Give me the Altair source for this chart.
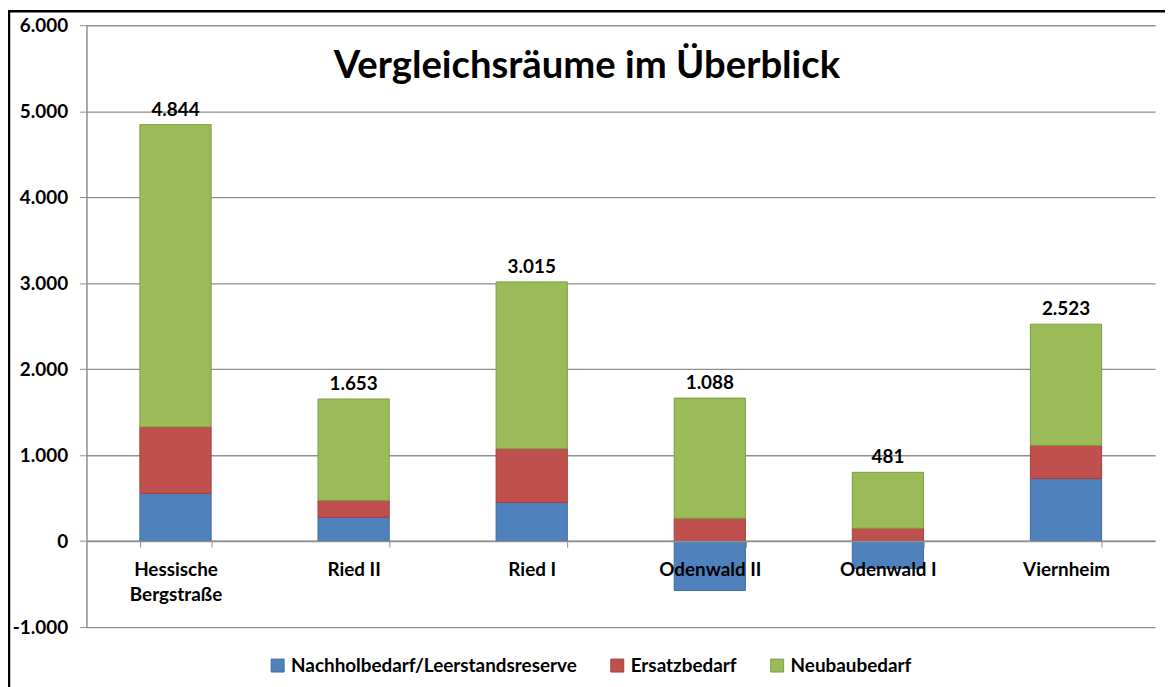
import altair as alt
import pandas as pd

title_text = ["Vergleichsräume im Überblick"]
regions = ["Hessische Bergstraße", "Ried II", "Ried I", "Odenwald II", "Odenwald I", "Viernheim"]
series = ["Nachholbedarf/Leerstandsreserve", "Ersatzbedarf", "Neubaubedarf"]
nachholbedarf = [554, 277, 450, -575, -319, 727]
ersatzbedarf = [774, 196, 624, 265, 150, 385]
neubaubedarf = [3516, 1180, 1941, 1398, 650, 1411]
totals = [4844, 1653, 3015, 1088, 481, 2523]
y_ticks = [-1000, 0, 1000, 2000, 3000, 4000, 5000, 6000]

fill_colors = ["#4F81BD", "#C0504D", "#9BBB59"]
stroke_colors = ["#3E6DA3", "#A43F3C", "#7E9C45"]

rows = []
for i, r in enumerate(regions):
    for j, (s, vals) in enumerate(zip(series, [nachholbedarf, ersatzbedarf, neubaubedarf])):
        rows.append({"region": r, "series": s, "order": j, "value": vals[i]})
df = pd.DataFrame(rows)

tops = [sum(v for v in (a, b, c) if v > 0) for a, b, c in zip(nachholbedarf, ersatzbedarf, neubaubedarf)]
lab = pd.DataFrame({
    "region": regions,
    "top": tops,
    "label": [f"{t:,}".replace(",", ".") for t in totals],
})

FONT = "Lato"
FS = 19
GRID = "#8E8E8E"
W, H = 1076, 606

x_enc = alt.X(
    "region:N", sort=regions, title=None,
    scale=alt.Scale(paddingInner=0.6, paddingOuter=0.3),
    axis=alt.Axis(
        labelAngle=0, offset=-H * 1000 / 7000, tickBand="extent", tickSize=6,
        labelPadding=14, labelFont=FONT, labelFontWeight="bold", labelFontSize=FS,
        labelColor="black", domainColor=GRID, domainWidth=1.5, tickColor=GRID,
        grid=False, zindex=1, labelLineHeight=25,
        labelExpr="length(datum.label) > 12 ? split(datum.label, ' ') : datum.label",
    ),
)
y_enc = alt.Y(
    "value:Q", stack="zero", title=None,
    scale=alt.Scale(domain=[-1000, 6000], nice=False),
    axis=alt.Axis(
        values=y_ticks, tickSize=7, labelPadding=12, labelFont=FONT,
        labelFontWeight="bold", labelFontSize=FS, labelColor="black",
        domainColor=GRID, domainWidth=1.5, tickColor=GRID, gridColor=GRID, gridWidth=1.3,
        labelExpr="datum.value < 0 ? '-' + replace(format(abs(datum.value), ','), ',', '.') : replace(format(datum.value, ','), ',', '.')",
    ),
)

leg = alt.Legend(
    title=None, orient="none", legendX=183, legendY=635, direction="horizontal",
    symbolType="square", symbolSize=170, symbolStrokeWidth=1, labelFont=FONT,
    labelFontWeight="bold", labelFontSize=FS, labelColor="black", labelLimit=500,
    columnPadding=31, labelOffset=4,
)

bars = alt.Chart(df).mark_bar(strokeWidth=1).encode(
    x=x_enc,
    y=y_enc,
    fill=alt.Fill("series:N", sort=series, scale=alt.Scale(domain=series, range=fill_colors), legend=leg),
    stroke=alt.Stroke("series:N", sort=series, scale=alt.Scale(domain=series, range=stroke_colors), legend=leg),
    order=alt.Order("order:Q"),
)

labels = alt.Chart(lab).mark_text(
    font=FONT, fontSize=FS, fontWeight="bold", baseline="alphabetic", dy=-9, color="black"
).encode(
    x=alt.X("region:N", sort=regions),
    y=alt.Y("top:Q"),
    text="label:N",
)

title = alt.Chart(pd.DataFrame({"t": title_text})).mark_text(
    font=FONT, fontSize=38.5, fontWeight="bold", baseline="alphabetic", align="center", color="black"
).encode(
    x=alt.value(504), y=alt.value(53), text="t:N"
)

frame = alt.Chart(pd.DataFrame({"f": [0]})).mark_rect(
    filled=False, stroke="black", strokeWidth=2.5
).encode(
    x=alt.value(-78), x2=alt.value(1300), y=alt.value(-14), y2=alt.value(900)
)

chart = alt.layer(bars, labels, title, frame).properties(
    width=W, height=H,
    autosize=alt.AutoSizeParams(type="none"),
    padding={"left": 79, "top": 15, "right": 10, "bottom": 60},
).configure_view(stroke=None)

chart.save("out.html", embed_options={"renderer": "svg", "actions": False})
